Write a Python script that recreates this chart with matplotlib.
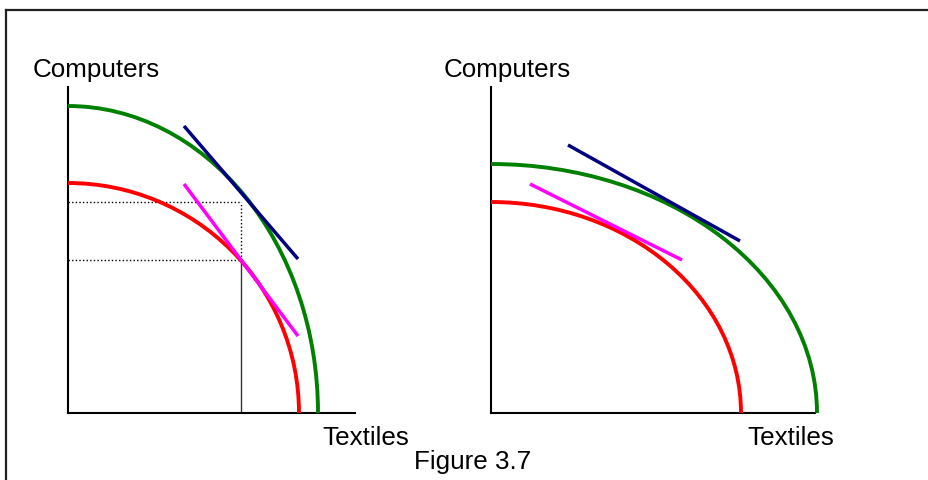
import matplotlib.pyplot as plt
from matplotlib.patches import Arc

plt.rcParams['font.family'] = ['Liberation Sans', 'DejaVu Sans']

# frontier intercepts (x = textiles, y = computers), one pair per curve
left_green = (25.0, 30.7)
left_red = (23.1, 23.0)
right_green = (32.6, 24.9)
right_red = (25.0, 21.1)

# price lines: [x0, x1], [y0, y1]
left_blue_x, left_blue_y = [11.6, 23.0], [28.7, 15.4]
left_mag_x, left_mag_y = [11.6, 23.0], [22.9, 7.7]
right_blue_x, right_blue_y = [7.7, 24.9], [26.8, 17.2]
right_mag_x, right_mag_y = [3.9, 19.1], [22.9, 15.3]

# production / consumption point guides in the left panel
guide_x = 17.3
guide_y = [15.3, 21.1]

W, H = 929, 481
fig = plt.figure(figsize=(W / 100, H / 100), dpi=100)

# outer frame
fig.add_artist(plt.Line2D([6 / W, 1], [1 - 11 / H, 1 - 11 / H], color='#222222', lw=1.6))
fig.add_artist(plt.Line2D([6 / W, 6 / W], [0, 1 - 11 / H], color='#222222', lw=1.6))


def make_panel(x0, w, xmax):
    ax = fig.add_axes([x0 / W, (H - 414) / H, w / W, 326 / H])
    ax.set_xlim(0, xmax)
    ax.set_ylim(0, 32.6)
    for s in ['top', 'right']:
        ax.spines[s].set_visible(False)
    for s in ['left', 'bottom']:
        ax.spines[s].set_linewidth(1.5)
        ax.spines[s].set_color('black')
    ax.set_xticks([])
    ax.set_yticks([])
    ax.patch.set_alpha(0)
    return ax


def frontier(ax, ab, color):
    arc = Arc((0, 0), 2 * ab[0], 2 * ab[1], theta1=0, theta2=90,
              color=color, lw=2.8, clip_on=False, zorder=3)
    ax.add_patch(arc)


axl = make_panel(68, 287, 28.7)
frontier(axl, left_green, '#008000')
frontier(axl, left_red, '#ff0000')
axl.plot(left_blue_x, left_blue_y, color='#000080', lw=2.5, zorder=4, solid_capstyle='butt')
axl.plot(left_mag_x, left_mag_y, color='#ff00ff', lw=2.5, zorder=4, solid_capstyle='butt')
for gy in guide_y:
    axl.plot([0, guide_x], [gy, gy], color='black', lw=1, ls=(0, (1, 1.6)), zorder=2)
axl.plot([guide_x, guide_x], guide_y, color='black', lw=1, ls=(0, (1, 1.6)), zorder=2)
axl.plot([guide_x, guide_x], [0, guide_y[0]], color='#333333', lw=1, zorder=2)

axr = make_panel(491, 324, 32.4)
frontier(axr, right_green, '#008000')
frontier(axr, right_red, '#ff0000')
axr.plot(right_blue_x, right_blue_y, color='#000080', lw=2.5, zorder=4, solid_capstyle='butt')
axr.plot(right_mag_x, right_mag_y, color='#ff00ff', lw=2.5, zorder=4, solid_capstyle='butt')

fs = 18.7
fig.text(33 / W, 1 - 77 / H, 'Computers', fontsize=fs, va='baseline')
fig.text(444 / W, 1 - 77 / H, 'Computers', fontsize=fs, va='baseline')
fig.text(322 / W, 1 - 445 / H, 'Textiles', fontsize=fs, va='baseline')
fig.text(747 / W, 1 - 445 / H, 'Textiles', fontsize=fs, va='baseline')
fig.text(414 / W, 1 - 469 / H, 'Figure 3.7', fontsize=fs, va='baseline')

fig.savefig('out.png', dpi=100)
